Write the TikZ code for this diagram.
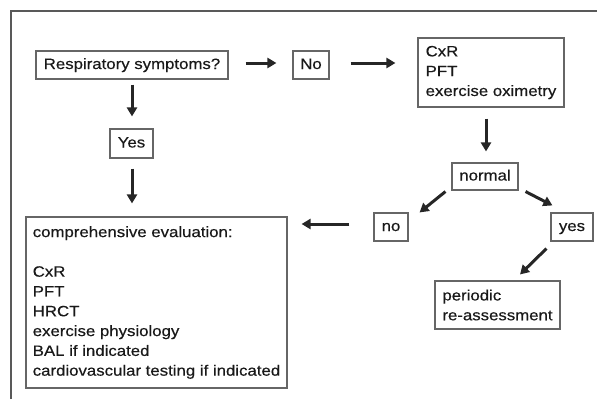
\documentclass[tikz,border=0pt]{standalone}
\usepackage{fontspec}
\setmainfont[FakeStretch=1.12, FakeBold=0.4]{Liberation Sans}
\usetikzlibrary{arrows.meta}
\begin{document}
\begin{tikzpicture}[x=1pt, y=-1pt]
    \tikzstyle{box}=[draw=black!60, line width=1.1pt, text=black!90,
        inner xsep=0pt, inner ysep=0pt, align=left,
        font=\fontsize{15}{19.8}\selectfont]
    \tikzstyle{single}=[text height=11pt, text depth=3pt]
    \tikzstyle{arr}=[draw=black!85, line width=3pt,
        -{Triangle[length=9pt, width=10pt]}]

    \useasboundingbox (0, 0) rectangle (597, 399);
    % frame
    \draw [black!65, line width=1.6pt] (11, 399) -- (11, 11) -- (597, 11);

    \node (resp) at (132, 65) [box, single, minimum width=192, minimum height=28] {Respiratory symptoms?};
    \node (no1) at (311, 65) [box, single, minimum width=36, minimum height=28] {No};
    \node (cxr) at (491, 72.5) [box, minimum width=146, minimum height=69] {CxR\\PFT\\exercise oximetry};
    \node (normal) at (485, 176.5) [box, single, minimum width=66, minimum height=27] {normal};
    \node (no2) at (391, 227) [box, single, minimum width=34, minimum height=28] {no};
    \node (yes2) at (572, 227) [box, single, minimum width=42, minimum height=28] {yes};
    \node (periodic) at (497.5, 305) [box, minimum width=125, minimum height=48] {periodic\\re-assessment};
    \node (yes1) at (131.5, 143.5) [box, single, minimum width=43, minimum height=29] {Yes};
    \node (comp) at (156.5, 302.5) [box, minimum width=261, minimum height=171]
        {comprehensive evaluation:\\[19.8pt]CxR\\PFT\\HRCT\\exercise physiology\\BAL if indicated\\cardiovascular testing if indicated};

    \draw [arr, shorten <=17pt, shorten >=16pt] ([yshift=2]resp.east) to ([yshift=2]no1.west);
    \draw [arr, shorten <=21pt, shorten >=22pt] ([yshift=2]no1.east) to ([yshift=2]no1.east -| cxr.west);
    \draw [arr, shorten <=11pt, shorten >=11pt] ([xshift=1]normal.north |- cxr.south) to ([xshift=1]normal.north);
    \draw [arr] ([shift={(-6,1)}]normal.south west) to ([shift={(11,0)}]no2.north east);
    \draw [arr] ([shift={(7,1)}]normal.south east) to ([shift={(2,-7)}]yes2.north west);
    \draw [arr] ([shift={(-4,7)}]yes2.south west) to ([shift={(22.5,-6)}]periodic.north);
    \draw [arr, shorten <=24pt, shorten >=14pt] ([yshift=3]no2.west) to ([yshift=3]no2.west -| comp.east);
    \draw [arr, shorten <=5pt, shorten >=12pt] (resp.south) to (resp.south |- yes1.north);
    \draw [arr, shorten <=10pt, shorten >=13pt] (resp.south |- yes1.south) to (resp.south |- comp.north);
\end{tikzpicture}
\end{document}
